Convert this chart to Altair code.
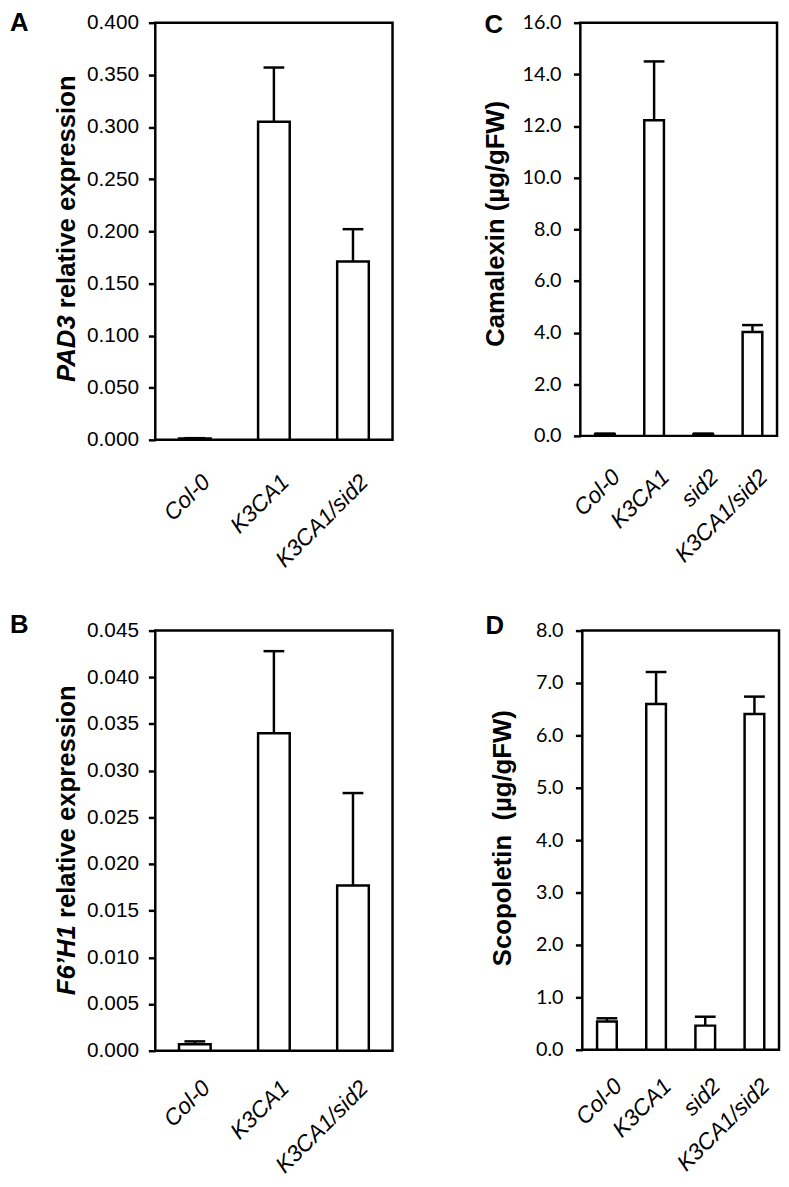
import altair as alt
import pandas as pd

# ---------------- data ----------------
cats_ab = ["Col-0", "K3CA1", "K3CA1/sid2"]
cats_cd = ["Col-0", "K3CA1", "sid2", "K3CA1/sid2"]

pad3_mean = [0.0012, 0.305, 0.171]
pad3_sd = [0.0004, 0.052, 0.031]

f6h1_mean = [0.0007, 0.0340, 0.0177]
f6h1_sd = [0.0003, 0.0088, 0.0099]

cam_mean = [0.06, 12.22, 0.06, 4.02]
cam_sd = [0.03, 2.28, 0.03, 0.27]

scop_mean = [0.54, 6.60, 0.46, 6.41]
scop_sd = [0.06, 0.61, 0.17, 0.33]

ticks_a = [0.0, 0.05, 0.1, 0.15, 0.2, 0.25, 0.3, 0.35, 0.4]
ticks_b = [0.0, 0.005, 0.01, 0.015, 0.02, 0.025, 0.03, 0.035, 0.04, 0.045]
ticks_c = [0, 2, 4, 6, 8, 10, 12, 14, 16]
ticks_d = [0, 1, 2, 3, 4, 5, 6, 7, 8]

BLACK = "#000000"
SANS = "Liberation Sans"
CALI = "Lato"


def panel(cats, mean, sd, ticks, fmt, width, height, lab_font, lab_size, lab_pad,
          xlab_pad, letter, letter_x, letter_y, title_parts, title_x):
    df = pd.DataFrame({"cat": cats, "mean": mean,
                       "top": [m + s for m, s in zip(mean, sd)]})
    xaxis = alt.Axis(labelAngle=-45, labelAlign="right", labelBaseline="top",
                     labelFont=SANS, labelFontSize=23, labelFontStyle="italic",
                     labelColor=BLACK, labelPadding=xlab_pad, labelOffset=4,
                     ticks=False, domain=False, grid=False, labelOverlap=False,
                     labelLimit=400)
    xscale = alt.Scale(paddingInner=0, paddingOuter=0)
    xenc = alt.X("cat:N", sort=cats, title=None, scale=xscale, axis=xaxis)
    yaxis = alt.Axis(values=ticks, format=fmt, labelFont=lab_font,
                     labelFontSize=lab_size, labelColor=BLACK,
                     labelPadding=lab_pad, tickSize=7, tickWidth=2.5,
                     tickColor=BLACK, domain=False, grid=False,
                     labelOverlap=False)
    yscale = alt.Scale(domain=[ticks[0], ticks[-1]], nice=False, zero=True)

    base = alt.Chart(df)
    bars = base.mark_bar(width=alt.RelativeBandSize(0.4), fill="white",
                         stroke=BLACK, strokeWidth=2.5).encode(
        x=xenc, y=alt.Y("mean:Q", scale=yscale, axis=yaxis, title=None))
    stems = base.mark_rule(color=BLACK, strokeWidth=2.5).encode(
        x=xenc, y=alt.Y("mean:Q", scale=yscale, axis=yaxis, title=None),
        y2="top:Q")
    caps = base.mark_tick(color=BLACK, size=21, thickness=2.5, opacity=1).encode(
        x=xenc, y=alt.Y("top:Q", scale=yscale, axis=yaxis, title=None))

    layers = [bars, stems, caps]

    lett = alt.Chart(pd.DataFrame({"t": [letter]})).mark_text(
        font=SANS, fontSize=26, fontWeight="bold", align="left",
        baseline="alphabetic", color=BLACK
    ).encode(text="t:N", x=alt.value(letter_x), y=alt.value(letter_y))
    layers.append(lett)

    for text, style, align, ty in title_parts:
        t = alt.Chart(pd.DataFrame({"t": [text]})).mark_text(
            font=SANS, fontSize=26, fontWeight="bold", fontStyle=style,
            align=align, baseline="alphabetic", angle=270, color=BLACK
        ).encode(text="t:N", x=alt.value(title_x), y=alt.value(ty))
        layers.append(t)

    return alt.layer(*layers).properties(width=width, height=height)


SPACE = 7.2  # width of a bold space at 26px

hA = 422
jA = hA - 126
panel_a = panel(cats_ab, pad3_mean, pad3_sd, ticks_a, ".3f", 240, hA,
                SANS, 21, 10, 31, "A", -147, 8.3,
                [("PAD3", "italic", "right", jA),
                 ("relative expression", "normal", "left", jA - SPACE)], -81)

hB = 425
jB = hB - 127
panel_b = panel(cats_ab, f6h1_mean, f6h1_sd, ticks_b, ".3f", 240, hB,
                SANS, 21, 10, 26, "B", -147, 2.7,
                [("F6\u2019H1", "italic", "right", jB),
                 ("relative expression", "normal", "left", jB - SPACE)], -81)

hC = 418
panel_c = panel(cats_cd, cam_mean, cam_sd, ticks_c, ".1f", 199, hC,
                CALI, 20, 12.5, 30, "C", -97, 10,
                [("Camalexin (\u00b5g/gFW)", "normal", "center", hC - 214.5)], -77)

hD = 424
panel_d = panel(cats_cd, scop_mean, scop_sd, ticks_d, ".1f", 199, hD,
                CALI, 20, 12.5, 25, "D", -98, 3,
                [("Scopoletin\u00a0 (\u00b5g/gFW)", "normal", "center", 210)], -72.5)

row1 = alt.hconcat(panel_a, panel_c, spacing=88)
row2 = alt.hconcat(panel_b, panel_d, spacing=90)

chart = alt.vconcat(row1, row2, spacing=38).properties(
    padding={"top": -6, "left": 0, "right": 0, "bottom": 0},
    background="white"
).configure_view(stroke=BLACK, strokeWidth=2.5)

chart.save("out.html", embed_options={"renderer": "svg", "actions": False})
